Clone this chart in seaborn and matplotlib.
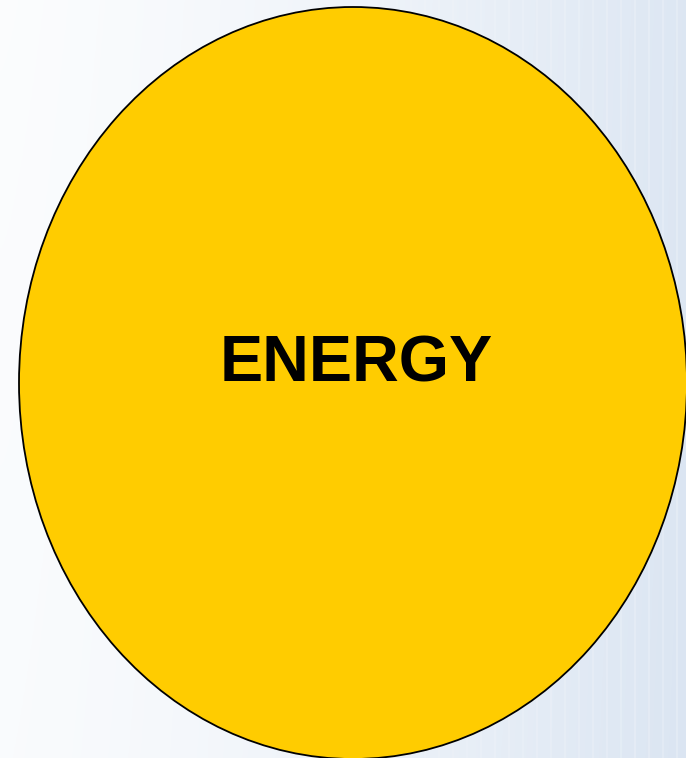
import numpy as np
import matplotlib
matplotlib.use("Agg")
import matplotlib.pyplot as plt
from matplotlib.patches import Ellipse
import seaborn as sns

# single labelled circle on a pale blue slide background
labels = ["ENERGY"]
fill_colours = ["#ffcc00"]

sns.set_style("white")
plt.rcParams['font.family'] = ['Liberation Sans', 'DejaVu Sans']

W, H = 686, 758
fig = plt.figure(figsize=(W / 100, H / 100), dpi=100)
ax = fig.add_axes([0, 0, 1, 1])
ax.set_xlim(0, W)
ax.set_ylim(H, 0)
ax.axis('off')

# background: white on the left fading to light blue on the right
xs = np.linspace(0, 1, 300)
ys = np.linspace(0, 1, 300)
gx, gy = np.meshgrid(xs, ys)
t = np.clip(gx ** 1.4 * 0.95 + gy * 0.06, 0, 1)
left = np.array([0.985, 0.99, 0.995])
right = np.array([0.86, 0.9, 0.95])
img = left[None, None, :] * (1 - t[..., None]) + right[None, None, :] * t[..., None]
ax.imshow(img, extent=[0, W, H, 0], aspect='auto', zorder=0)

# faint vertical texture, stronger towards the right
for x in np.arange(5, W, 14):
    ax.axvline(x, color='white', alpha=0.25 * (x / W) ** 1.5, lw=1.2, zorder=1)

for lab, col in zip(labels, fill_colours):
    ax.add_patch(Ellipse((353, 383), 668, 752, facecolor=col,
                         edgecolor='black', lw=1.3, zorder=2))
    ax.text(356, 365, lab, ha='center', va='center', fontsize=46.5,
            fontweight='bold', color='black', zorder=3)

fig.savefig('out.png', dpi=100)
